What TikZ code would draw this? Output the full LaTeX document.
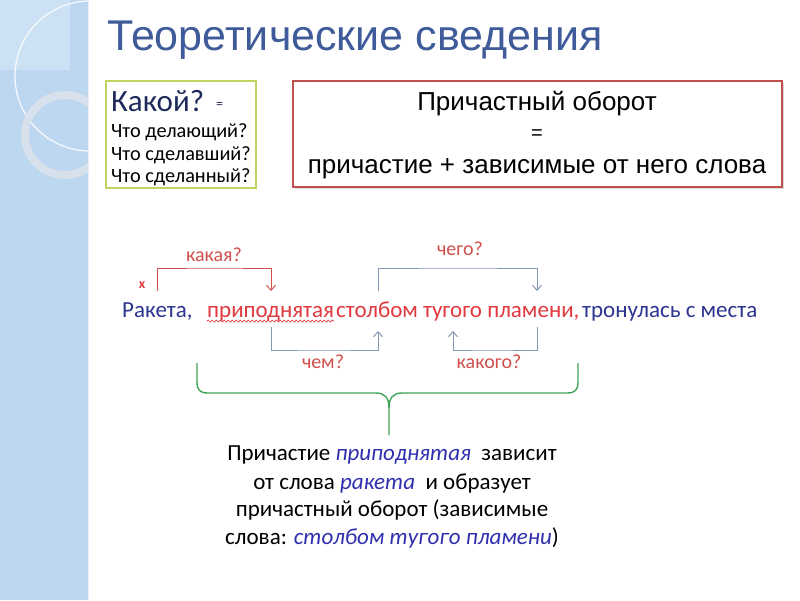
\documentclass[tikz,border=0pt]{standalone}
\usepackage{fontspec}
\setmainfont{Carlito}
\newfontfamily\arialf{Liberation Sans}
\usetikzlibrary{arrows.meta,decorations.pathmorphing}
\definecolor{stripblue}{HTML}{BCD7EF}
\definecolor{titleblue}{HTML}{3F5B9A}
\definecolor{navy}{HTML}{1F2A5C}
\definecolor{boxgreen}{HTML}{C3D161}
\definecolor{boxred}{HTML}{C0504D}
\definecolor{sred}{HTML}{E0393E}
\definecolor{sblue}{HTML}{2E3590}
\definecolor{lred}{HTML}{D0504D}
\definecolor{bgray}{HTML}{8397B3}
\definecolor{bgreen}{HTML}{3FA35A}
\definecolor{iblue}{HTML}{2F2FB0}
\definecolor{ringc}{HTML}{D8E2EC}
\tikzset{
  sent/.style={anchor=base west, inner sep=0pt, font=\fontsize{23}{27}\selectfont},
  qlab/.style={inner sep=0pt, text=lred, font=\fontsize{20}{24}\selectfont},
  redbr/.style={draw=lred, line width=1pt, arrows={-Straight Barb[length=5pt,width=9pt]}},
  graybr/.style={draw=bgray, line width=1pt, arrows={-Straight Barb[length=5pt,width=9pt]}},
  bline/.style={anchor=base, inner sep=0pt, font=\fontsize{23}{27}\selectfont},
  qline/.style={anchor=base west, inner sep=0pt, font=\fontsize{20.3}{22}\selectfont},
  b2txt/.style={anchor=base, inner sep=0pt, font=\arialf\fontsize{26}{30}\selectfont},
}
\begin{document}
\begin{tikzpicture}[x=1pt,y=-1pt]
\useasboundingbox (0,0) rectangle (800,600);
\fill[white] (0,0) rectangle (800,600);
% left strip
\fill[stripblue] (0,0) rectangle (88,600);
\draw[white!60!stripblue, line width=1pt] (88,0) -- (88,600);
\begin{scope}
\clip (0,0) rectangle (88,600);
\fill[white, opacity=0.25] (0,0) rectangle (70,70);
\draw[white, opacity=0.85, line width=1.3pt] (90,76) circle [radius=75];
\draw[ringc, opacity=0.95, line width=8pt] (65,135) circle [radius=40];
\end{scope}
% title
\node[anchor=base west, inner sep=0pt, text=titleblue, font=\arialf\fontsize{43}{48}\selectfont] (title) at (107,50) {Теоретические сведения};
% box 1
\node[draw=boxgreen, line width=2pt, minimum width=150pt, minimum height=107pt, anchor=north west] (box1) at (105,80) {};
\node[anchor=base west, inner sep=0pt, text=navy, font=\fontsize{31}{34}\selectfont] (kakoy) at (111,111) {Какой?};
\node[anchor=base west, inner sep=0pt, text=navy, font=\fontsize{14}{16}\selectfont] (eq1) at (216,108) {=};
\node[qline] (q1) at (111,137) {Что делающий?};
\node[qline] (q2) at (111,160) {Что сделавший?};
\node[qline] (q3) at (111,182) {Что сделанный?};
% box 2
\fill[black!15] (295,83) rectangle (784,189);
\node[draw=boxred, fill=white, line width=1.5pt, minimum width=489pt, minimum height=106pt, anchor=north west] (box2) at (292,80) {};
\node[b2txt] (b2a) at (537,110) {Причастный оборот};
\node[b2txt, font=\arialf\fontsize{20}{24}\selectfont] (b2b) at (537,139) {=};
\node[b2txt] (b2c) at (537,173) {причастие + зависимые от него слова};
% sentence
\node[sent, text=sblue] (w1) at (122,317) {Ракета,};
\node[sent, text=sred] (w2) at (207,317) {приподнятая};
\node[sent, text=sred] (w3) at (336,317) {столбом тугого пламени,};
\node[sent, text=sblue] (w4) at (582,317) {тронулась с места};
\draw[sred, line width=0.7pt, decorate, decoration={snake, amplitude=1pt, segment length=4pt}] (w2.base west) ++(0,4) -- ++(127,0);
\node[inner sep=0pt, text=sred, font=\bfseries\fontsize{14}{16}\selectfont] (x) at (142,285) {x};
% brackets
\coordinate (a1) at (157,291);
\coordinate (a2) at (271,291);
\draw[redbr] (a1) |- (214,268) -| (a2);
\node[qlab] (lk) at (214,255) {какая?};
\coordinate (c1) at (378,291);
\coordinate (c2) at (537,291);
\draw[graybr] (c1) |- (458,268) -| (c2);
\node[qlab] (lc) at (460,249) {чего?};
\coordinate (d1) at (271,327);
\coordinate (d2) at (378,331);
\draw[graybr] (d1) |- (323,350) -| (d2);
\node[qlab] (ld) at (323,362) {чем?};
\coordinate (e1) at (537,327);
\coordinate (e2) at (453,331);
\draw[graybr] (e1) |- (489,350) -| (e2);
\node[qlab] (le) at (489,362) {какого?};
% green brace
\coordinate (gl) at (197,363);
\coordinate (gr) at (578,363);
\coordinate (gm) at (389,435);
\draw[bgreen, line width=1.4pt, line join=round]
  (gl) -- (197,382) .. controls (197,390) and (200,393) .. (208,393)
  -- (376,393) .. controls (385,393) and (389,398) .. (389,408) -- (gm);
\draw[bgreen, line width=1.4pt, line join=round]
  (gr) -- (578,382) .. controls (578,390) and (575,393) .. (567,393)
  -- (402,393) .. controls (393,393) and (389,398) .. (389,408);
% bottom text
\node[bline] (t1) at (392,460) {Причастие \textcolor{iblue}{\itshape приподнятая}\ \ зависит};
\node[bline] (t2) at (392,489) {от слова \textcolor{iblue}{\itshape ракета}\ \ и образует};
\node[bline] (t3) at (392,516) {причастный оборот (зависимые};
\node[bline] (t4) at (392,544) {слова: \textcolor{iblue}{\itshape столбом тугого пламени})};
\end{tikzpicture}
\end{document}
